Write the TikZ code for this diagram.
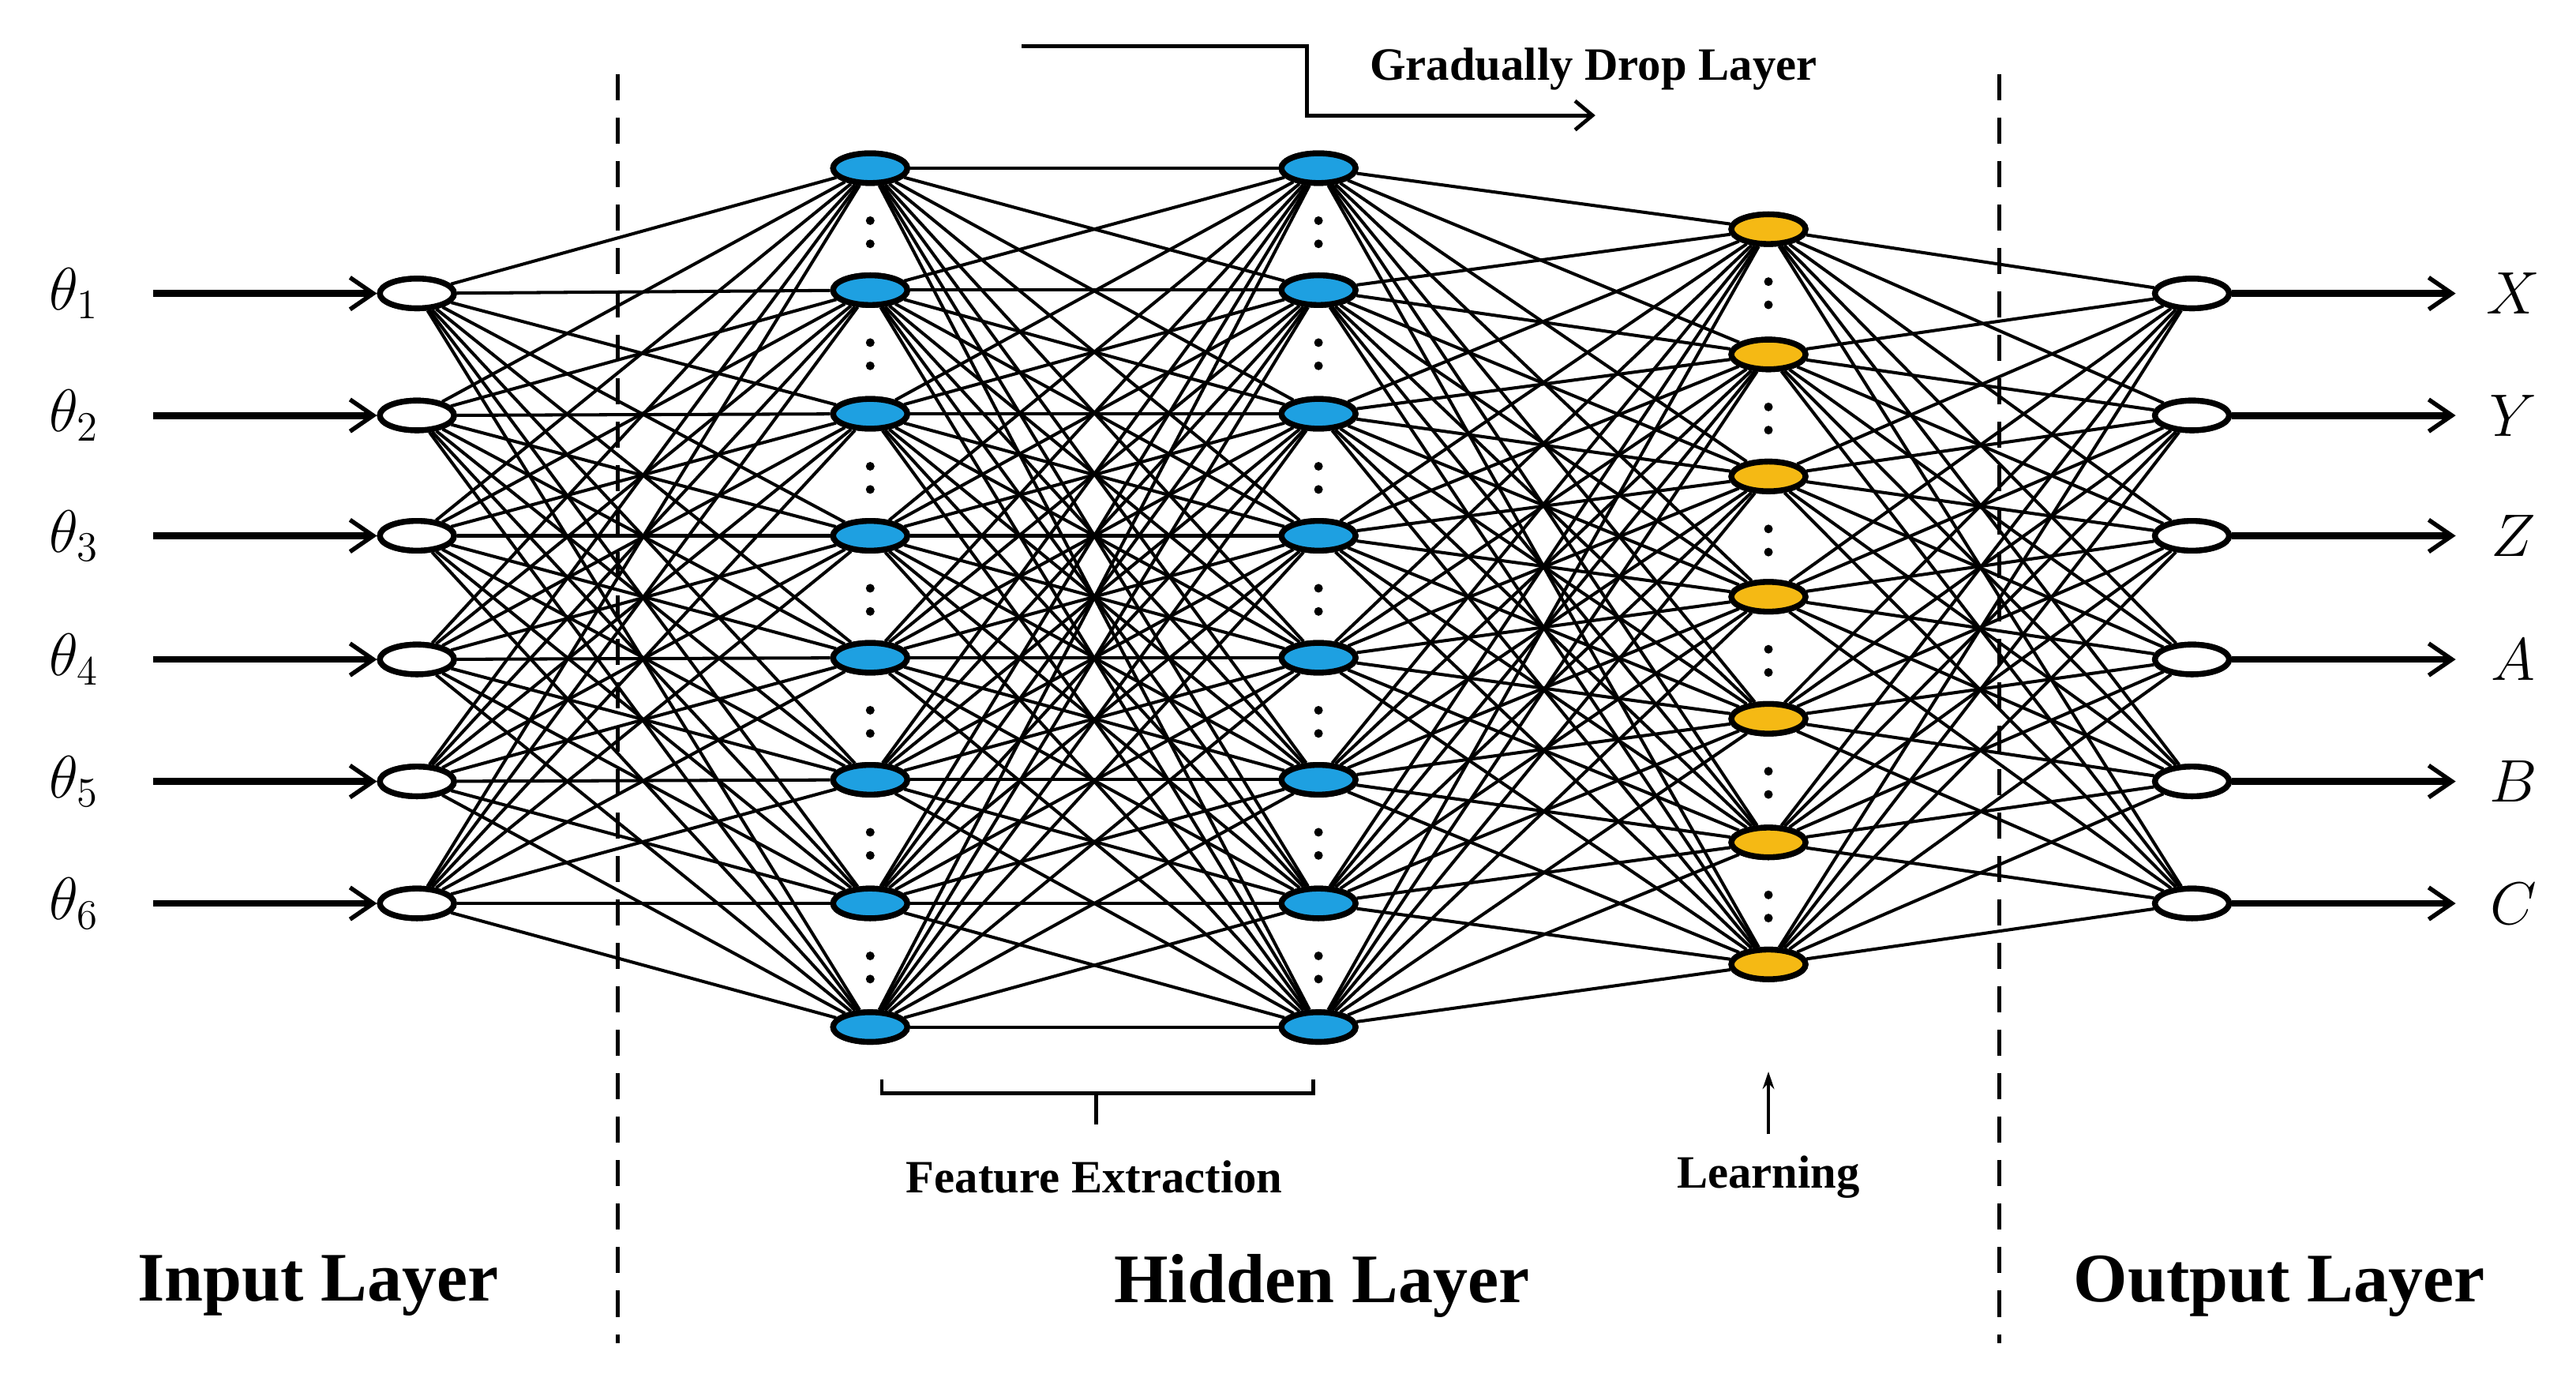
\documentclass[tikz,border=0pt]{standalone}
\usepackage{fontspec}
\setmainfont{Liberation Serif}
\usetikzlibrary{arrows.meta,shapes.geometric}
\begin{document}
\begin{tikzpicture}[x=0.02cm,y=-0.02cm,
  neuron/.style={ellipse,draw=black,line width=2pt,minimum width=0.9cm,minimum height=0.36cm,inner sep=0pt},
  conn/.style={line width=1.1pt},
  io/.style={line width=2.4pt,-{Straight Barb[length=8pt,width=11pt,line width=1.5pt]}},
  dots/.style={line width=3pt,dash pattern=on 0pt off 8pt,line cap=round,shorten <=12pt,shorten >=9pt},
  lab/.style={font=\bfseries\fontsize{16}{19}\selectfont},
  big/.style={font=\bfseries\fontsize{24}{28}\selectfont}]
\useasboundingbox (0,0) rectangle (1563,833);
\definecolor{nblue}{RGB}{30,160,225}
\definecolor{nyel}{RGB}{245,185,20}
% nodes
\foreach \i/\y in {1/178,2/252,3/325,4/400,5/474,6/548}{
  \node[neuron,fill=white] (in\i) at (253,\y) {};
  \node[neuron,fill=white] (out\i) at (1330,\y) {};
}
\foreach \i/\y in {1/102,2/176,3/251,4/325,5/399,6/473,7/548,8/623}{
  \node[neuron,fill=nblue] (ha\i) at (528,\y) {};
  \node[neuron,fill=nblue] (hb\i) at (800,\y) {};
}
\foreach \i/\y in {1/139,2/215,3/289,4/362,5/436,6/511,7/585}{
  \node[neuron,fill=nyel] (hc\i) at (1073,\y) {};
}
% connections
\foreach \i in {1,...,6}{\foreach \j in {1,...,8}{\draw[conn] (in\i) -- (ha\j);}}
\foreach \i in {1,...,8}{\foreach \j in {1,...,8}{\draw[conn] (ha\i) -- (hb\j);}}
\foreach \i in {1,...,8}{\foreach \j in {1,...,7}{\draw[conn] (hb\i) -- (hc\j);}}
\foreach \i in {1,...,7}{\foreach \j in {1,...,6}{\draw[conn] (hc\i) -- (out\j);}}
% redraw nodes on top
\foreach \i in {1,...,6}{
  \node[neuron,fill=white] at (in\i) {};
  \node[neuron,fill=white] at (out\i) {};
}
\foreach \i in {1,...,8}{
  \node[neuron,fill=nblue] at (ha\i) {};
  \node[neuron,fill=nblue] at (hb\i) {};
}
\foreach \i in {1,...,7}{\node[neuron,fill=nyel] at (hc\i) {};}
% dots between
\foreach \a/\b in {1/2,2/3,3/4,4/5,5/6,6/7,7/8}{
  \draw[dots] (ha\a) -- (ha\b);
  \draw[dots] (hb\a) -- (hb\b);
}
\foreach \a/\b in {1/2,2/3,3/4,4/5,5/6,6/7}{
  \draw[dots] (hc\a) -- (hc\b);
}
% inputs/outputs
\foreach \i/\y in {1/178,2/252,3/325,4/400,5/474,6/548}{
  \coordinate (is\i) at (93,\y);
  \node (th\i) at (45,\y) {\fontsize{21}{24}\selectfont$\theta_{\i}$};
  \draw[io] (is\i) -- (in\i.west);
}
\foreach \i/\t in {1/X,2/Y,3/Z,4/A,5/B,6/C}{
  \coordinate (oe\i) at (1490,0 |- out\i);
  \node (ol\i) at (1525,0 |- out\i) {\fontsize{20}{24}\selectfont$\t$};
  \draw[io] (out\i.east) -- (oe\i);
}
% dashed separators
\coordinate (d1a) at (375,45); \coordinate (d1b) at (375,815);
\coordinate (d2a) at (1213,45); \coordinate (d2b) at (1213,815);
\draw[line width=1.3pt,dash pattern=on 9pt off 6pt] (d1a) -- (d1b);
\draw[line width=1.3pt,dash pattern=on 9pt off 6pt] (d2a) -- (d2b);
% top arrow
\coordinate (g1) at (620,28); \coordinate (g2) at (968,70);
\draw[line width=1.3pt,-{Straight Barb[length=6pt,width=10pt]}] (g1) -- (793,28) -- (793,70) -- (g2);
\node[lab,anchor=west] (gdl) at (825,42) {Gradually Drop Layer};
% bracket
\draw[line width=1.3pt] (535,655) -- (535,663) -- (797,663) -- (797,655);
\coordinate (fb) at (665,663); \coordinate (fe) at (665,682);
\draw[line width=1.3pt] (fb) -- (fe);
\node[lab] (fx) at (664,714) {Feature Extraction};
% learning
\coordinate (la) at (1073,688); \coordinate (lb) at (1073,650);
\draw[line width=1.2pt,-{Stealth[length=6pt,width=4pt]}] (la) -- (lb);
\node[lab] (lr) at (1073,714) {Learning};
% layer titles
\node[big] (il) at (193,780) {Input Layer};
\node[big] (hl) at (802,780) {Hidden Layer};
\node[big] (ol) at (1383,780) {Output Layer};
\end{tikzpicture}
\end{document}
